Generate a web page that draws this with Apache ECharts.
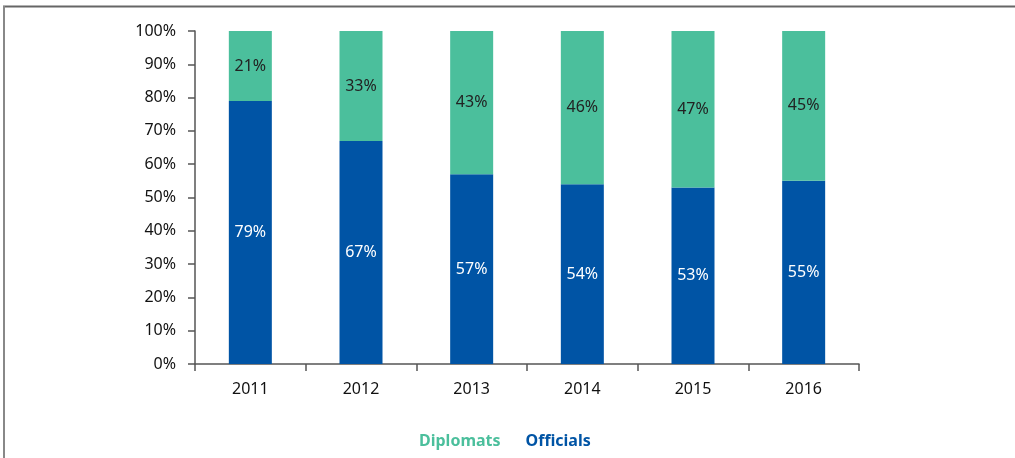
<!DOCTYPE html>
<html>
<head>
<meta charset="utf-8">
<script src="https://cdn.jsdelivr.net/npm/echarts@6/dist/echarts.min.js"></script>
<style>
html,body{margin:0;padding:0;background:#fff;}
#chart{width:1015px;height:458px;}
</style>
</head>
<body>
<div id="chart"></div>
<script>
const years = ['2011','2012','2013','2014','2015','2016'];
const officials = [79, 67, 57, 54, 53, 55];
const diplomats = [21, 33, 43, 46, 47, 45];
const yTicks = [0,10,20,30,40,50,60,70,80,90,100];

const GREEN = '#4bbf9c';
const BLUE = '#0054a5';
const FONT = 'Noto Sans';

const chart = echarts.init(document.getElementById('chart'));
chart.setOption({
  animation: false,
  backgroundColor: '#fff',
  textStyle: {fontFamily: FONT},
  graphic: [
    {type:'line', shape:{x1:3, y1:6.5, x2:1015, y2:6.5}, style:{stroke:'#666', lineWidth:2}},
    {type:'line', shape:{x1:4, y1:6, x2:4, y2:458}, style:{stroke:'#888', lineWidth:2}}
  ],
  grid: {left:195, right:156, top:31, bottom:94, containLabel:false},
  legend: {
    top: 428, left: 409,
    icon: 'rect', itemWidth: 0, itemHeight: 0, itemGap: 20,
    selectedMode: false,
    textStyle: {fontFamily: FONT, fontSize: 16, fontWeight: 'bold'},
    data: [
      {name:'Diplomats', textStyle:{color:GREEN}},
      {name:'Officials', textStyle:{color:BLUE}}
    ]
  },
  xAxis: {
    type: 'category',
    data: years,
    axisLine: {lineStyle:{color:'#555', width:1.5}},
    axisTick: {show:true, length:7, lineStyle:{color:'#555', width:1.5}},
    axisLabel: {color:'#111', fontSize:16, margin:17, fontFamily: FONT}
  },
  yAxis: {
    type: 'value',
    min: 0, max: 100, interval: 10,
    splitLine: {show:false},
    axisLine: {show:true, lineStyle:{color:'#555', width:1.5}},
    axisTick: {show:true, length:7, lineStyle:{color:'#555', width:1.5}},
    axisLabel: {color:'#111', fontSize:16, margin:19, fontFamily: FONT,
      formatter: v => yTicks.includes(v) ? v + '%' : ''}
  },
  series: [
    {
      name: 'Officials', type: 'bar', stack: 'total', barWidth: 43,
      data: officials,
      itemStyle: {color: BLUE},
      label: {show:true, position:'inside', color:'#fff', fontSize:16, fontFamily: FONT, formatter: p => p.value + '%'}
    },
    {
      name: 'Diplomats', type: 'bar', stack: 'total', barWidth: 43,
      data: diplomats,
      itemStyle: {color: GREEN},
      label: {show:true, position:'inside', color:'#222', fontSize:16, fontFamily: FONT, formatter: p => p.value + '%'}
    }
  ]
});
</script>
</body>
</html>
